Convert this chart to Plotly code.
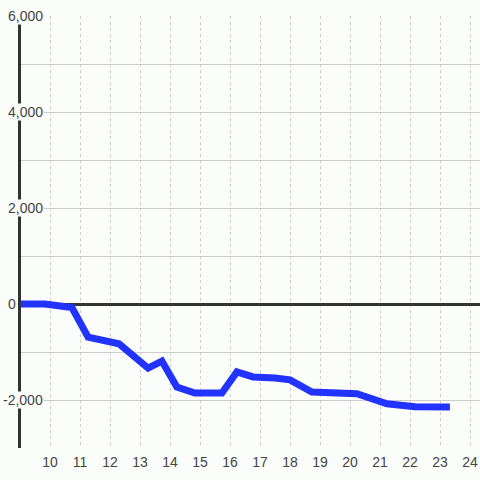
import plotly.graph_objects as go

# data
hours = [9.0, 9.83, 10.73, 11.27, 12.3, 13.27, 13.73, 14.23, 14.83, 15.73, 16.23,
         16.77, 17.5, 18.0, 18.73, 19.2, 19.7, 20.23, 21.23, 22.17, 23.33]
values = [0, 0, -75, -690, -830, -1335, -1190, -1730, -1855, -1855, -1415,
          -1520, -1540, -1580, -1835, -1835, -1860, -1870, -2080, -2140, -2145]

x_ticks = list(range(10, 25))
y_grid = list(range(-3000, 6001, 1000))
y_labels = [6000, 4000, 2000, 0, -2000]

BG = "#fbfdfb"
TXT = "#444444"
FONT = "Liberation Sans, Arial, sans-serif"

fig = go.Figure()
fig.add_trace(go.Scatter(
    x=hours, y=values, mode="lines",
    line=dict(color="#2233ff", width=7),
    hoverinfo="skip", showlegend=False,
))

for v in y_labels:
    txt = f"{v:,}"
    fig.add_annotation(
        x=0, xref="paper", y=v, yref="y",
        text=txt, showarrow=False,
        xanchor="right", yanchor="middle",
        xshift=(-4 if v == 0 else 23),
        font=dict(family=FONT, size=14, color=TXT),
        bgcolor=(None if v == 0 else BG), borderpad=0,
    )

fig.update_layout(
    width=480, height=480,
    margin=dict(l=21, r=0, t=16, b=32),
    paper_bgcolor=BG, plot_bgcolor=BG,
    font=dict(family=FONT, size=14, color=TXT),
    hovermode=False,
    xaxis=dict(
        range=[9 + 1 / 30, 9 + 1 / 30 + 459 / 30],
        tickmode="array", tickvals=x_ticks,
        ticktext=[str(t) for t in x_ticks],
        showgrid=True, gridcolor="#cccccc", gridwidth=1, griddash="3px,3px",
        zeroline=False, showline=False, ticks="",
        ticklabelstandoff=4,
        tickfont=dict(family=FONT, size=14, color=TXT),
    ),
    yaxis=dict(
        range=[-3000, 6000],
        tickmode="array", tickvals=y_grid, showticklabels=False,
        showgrid=True, gridcolor="#cccccc", gridwidth=1,
        zeroline=True, zerolinecolor="#333333", zerolinewidth=3,
        showline=True, linecolor="#333333", linewidth=3, ticks="",
    ),
)

fig.write_html(
    "out.html",
    config={"displayModeBar": False, "staticPlot": True},
    post_script="document.body.style.margin='0';document.body.style.background='%s';" % BG,
)
